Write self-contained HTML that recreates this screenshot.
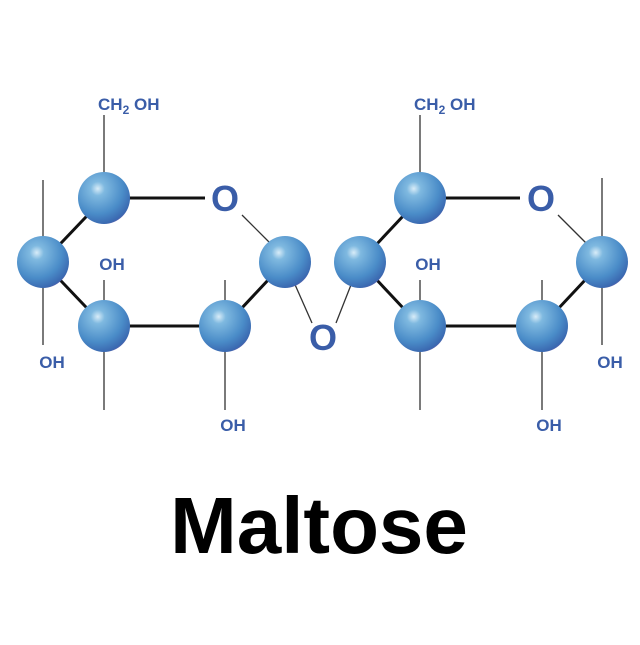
<!DOCTYPE html>
<html><head><style>
html,body{margin:0;padding:0;background:#fff;}
</style></head><body>
<svg width="640" height="640" viewBox="0 0 640 640" xmlns="http://www.w3.org/2000/svg">
<defs>
<radialGradient id="g" cx="0.38" cy="0.32" r="0.75">
<stop offset="0" stop-color="#d8ecf8"/>
<stop offset="0.18" stop-color="#7fb9e0"/>
<stop offset="0.65" stop-color="#4a8cc8"/>
<stop offset="0.92" stop-color="#3a68b0"/>
<stop offset="1" stop-color="#7a5aa8"/>
</radialGradient>
</defs>
<g stroke="#333" stroke-width="1.3">
<line x1="104" y1="198" x2="104" y2="115"/>
<line x1="43" y1="180" x2="43" y2="345"/>
<line x1="104" y1="280" x2="104" y2="410"/>
<line x1="225" y1="280" x2="225" y2="410"/>
<line x1="242" y1="215" x2="272" y2="245"/>
<line x1="285" y1="262" x2="312" y2="323"/>
<line x1="360" y1="262" x2="336" y2="323"/>
<line x1="420" y1="198" x2="420" y2="115"/>
<line x1="420" y1="280" x2="420" y2="410"/>
<line x1="542" y1="280" x2="542" y2="410"/>
<line x1="602" y1="178" x2="602" y2="345"/>
<line x1="558" y1="215" x2="588" y2="245"/>
</g>
<g stroke="#111" stroke-width="3">
<line x1="104" y1="198" x2="205" y2="198"/>
<line x1="104" y1="198" x2="43" y2="262"/>
<line x1="43" y1="262" x2="104" y2="326"/>
<line x1="104" y1="326" x2="225" y2="326"/>
<line x1="225" y1="326" x2="285" y2="262"/>
<line x1="420" y1="198" x2="520" y2="198"/>
<line x1="420" y1="198" x2="360" y2="262"/>
<line x1="360" y1="262" x2="420" y2="326"/>
<line x1="420" y1="326" x2="542" y2="326"/>
<line x1="542" y1="326" x2="602" y2="262"/>
</g>
<g fill="url(#g)">
<circle cx="104" cy="198" r="26"/>
<circle cx="43" cy="262" r="26"/>
<circle cx="104" cy="326" r="26"/>
<circle cx="225" cy="326" r="26"/>
<circle cx="285" cy="262" r="26"/>
<circle cx="420" cy="198" r="26"/>
<circle cx="360" cy="262" r="26"/>
<circle cx="420" cy="326" r="26"/>
<circle cx="542" cy="326" r="26"/>
<circle cx="602" cy="262" r="26"/>
</g>
<g fill="#3a5da8" font-family="Liberation Sans, sans-serif" font-weight="bold">
<text x="225" y="211" font-size="36" text-anchor="middle">O</text>
<text x="541" y="211" font-size="36" text-anchor="middle">O</text>
<text x="323" y="350" font-size="36" text-anchor="middle">O</text>
<g font-size="17">
<text x="98" y="110">CH<tspan font-size="12" dy="4">2</tspan><tspan dy="-4"> OH</tspan></text>
<text x="414" y="110">CH<tspan font-size="12" dy="4">2</tspan><tspan dy="-4"> OH</tspan></text>
<text x="112" y="270" text-anchor="middle">OH</text>
<text x="52" y="368" text-anchor="middle">OH</text>
<text x="233" y="431" text-anchor="middle">OH</text>
<text x="428" y="270" text-anchor="middle">OH</text>
<text x="549" y="431" text-anchor="middle">OH</text>
<text x="610" y="368" text-anchor="middle">OH</text>
</g>
</g>
<text x="319" y="553" font-family="Liberation Sans, sans-serif" font-weight="bold" font-size="80" text-anchor="middle" fill="#000">Maltose</text>
</svg>
</body></html>
